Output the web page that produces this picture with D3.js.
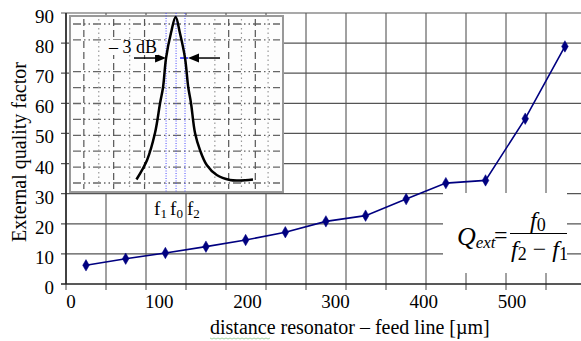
<!DOCTYPE html>
<html>
<head>
<meta charset="utf-8">
<script src="https://cdn.jsdelivr.net/npm/d3@7"></script>
</head>
<body style="margin:0; background:#fff">
<svg id="chart" width="581" height="341"></svg>
<script>
// main series: distance resonator - feed line [um] vs external quality factor
var distance = [17, 62, 107, 153, 198, 243, 289, 334, 380, 425, 470, 515, 560];
var qext = [6.2, 8.4, 10.3, 12.4, 14.6, 17.2, 20.8, 22.7, 28.2, 33.5, 34.4, 54.9, 78.9];
var xTickLabels = [0, 100, 200, 300, 400, 500];
var yTickLabels = [0, 10, 20, 30, 40, 50, 60, 70, 80, 90];

// inset: resonance curve (relative units)
var insetFreq = [3.12, 3.62, 3.99, 4.23, 4.37, 4.51, 4.74, 4.96, 5.16, 5.40, 5.55, 5.68, 5.87, 6.10, 6.42, 6.89, 7.51, 7.98, 8.59];
var insetResp = [0.22, 1.45, 3.14, 5.03, 6.04, 7.86, 9.43, 10.44, 9.43, 7.86, 6.04, 5.03, 3.14, 2.08, 1.13, 0.50, 0.19, 0.16, 0.22];
var insetGridX = [0.65, 1.35, 2.05, 2.8, 3.5, 6.8, 7.45, 8.05, 8.7, 9.3];
var insetGridY = [0, 1, 2, 3, 4, 5, 6, 7, 9, 10];
var fMarks = [4.51, 4.98, 5.40]; // f1, f0, f2
var level3dB = 7.86;

var svg = d3.select("#chart");

// scales
var x = d3.scaleLinear().domain([0, 600]).range([71, 600.2]);   // um -> px (labels, points)
var xGrid = d3.scaleLinear().domain([0, 13]).range([66, 586]);   // grid columns
var y = d3.scaleLinear().domain([0, 90]).range([284, 13]);
var ix = d3.scaleLinear().domain([0, 10]).range([70, 283]);
var iy = d3.scaleLinear().domain([0, 10]).range([183, 24]);

// main grid
svg.append("g").selectAll("line").data(d3.range(0, 14)).join("line")
    .attr("x1", d => xGrid(d)).attr("x2", d => xGrid(d))
    .attr("y1", y(90)).attr("y2", y(0) + 6)
    .attr("style", "stroke:#444; stroke-width:1");
svg.append("g").selectAll("line").data(yTickLabels).join("line")
    .attr("x1", xGrid(0) - 5).attr("x2", 600)
    .attr("y1", d => y(d)).attr("y2", d => y(d))
    .attr("style", d => "stroke:" + (d == 0 ? "#222" : "#555") + "; stroke-width:" + (d == 0 ? 1.5 : 1.2));
svg.append("line")
    .attr("x1", xGrid(0)).attr("x2", xGrid(0)).attr("y1", y(90)).attr("y2", y(0))
    .attr("style", "stroke:#222; stroke-width:1.5");

// tick labels
svg.append("g").selectAll("text").data(yTickLabels).join("text")
    .attr("x", 54).attr("y", d => y(d) + 10)
    .attr("text-anchor", "end").attr("font-size", 19).text(d => d);
svg.append("g").selectAll("text").data(xTickLabels).join("text")
    .attr("x", d => x(d)).attr("y", 308)
    .attr("text-anchor", "middle").attr("font-size", 19).text(d => d);

// axis titles
svg.append("text")
    .attr("transform", "translate(26, 152) rotate(-90)")
    .attr("text-anchor", "middle").attr("font-size", 20)
    .text("External quality factor");
svg.append("text")
    .attr("x", 210).attr("y", 334).attr("font-size", 20)
    .text("distance resonator \u2013 feed line [\u00b5m]");
// spell-check squiggle under "distance"
svg.append("path")
    .attr("d", d3.line()(d3.range(0, 31).map(i => [210 + i * 2, 338 + (i % 2 ? 1 : 0)])))
    .attr("style", "fill:none; stroke:#8cc88c; stroke-width:0.8");

// formula box
svg.append("rect").attr("x", 443).attr("y", 193).attr("width", 124).attr("height", 80)
    .attr("style", "fill:#fff");
var tq = svg.append("text").attr("x", 457).attr("y", 245).attr("font-size", 26).style("font-style", "italic");
tq.append("tspan").text("Q");
tq.append("tspan").attr("font-size", 17).attr("dy", 3).text("ext");
svg.append("text").attr("x", 494).attr("y", 243).attr("font-size", 24).text("=");
svg.append("line").attr("x1", 510).attr("x2", 567).attr("y1", 233.5).attr("y2", 233.5)
    .attr("style", "stroke:#000; stroke-width:1.2");
var tn = svg.append("text").attr("x", 530).attr("y", 228).attr("font-size", 24);
tn.append("tspan").style("font-style", "italic").text("f");
tn.append("tspan").attr("font-size", 18).attr("dy", 3).text("0");
var td = svg.append("text").attr("x", 511).attr("y", 257).attr("font-size", 24);
td.append("tspan").style("font-style", "italic").text("f");
td.append("tspan").attr("font-size", 18).attr("dy", 3).text("2");
td.append("tspan").attr("dy", -3).text(" \u2212 ");
td.append("tspan").style("font-style", "italic").text("f");
td.append("tspan").attr("font-size", 18).attr("dy", 3).text("1");

// data line + markers
var pts = distance.map((d, i) => [x(d), y(qext[i])]);
svg.append("path").attr("d", d3.line()(pts))
    .attr("style", "fill:none; stroke:#000080; stroke-width:1.6");
svg.append("g").selectAll("path").data(pts).join("path")
    .attr("transform", d => "translate(" + d[0] + "," + d[1] + ")")
    .attr("d", d3.symbol(d3.symbolDiamond, 38))
    .attr("style", "fill:#000080; stroke:#000080; stroke-width:0.5");

// inset
var inset = svg.append("g");
inset.append("rect").attr("x", ix(0)).attr("y", 16).attr("width", ix(10) - ix(0)).attr("height", 176)
    .attr("style", "fill:#fdfdfd; stroke:#999; stroke-width:2");
inset.selectAll(".igy").data(insetGridY).join("line").classed("igy", true)
    .attr("x1", ix(0) + 3).attr("x2", ix(10) - 3)
    .attr("y1", d => iy(d)).attr("y2", d => iy(d))
    .attr("stroke-dasharray", "8 3 1.5 3 1.5 3")
    .attr("style", "stroke:#666; stroke-width:1.3");
inset.selectAll(".igx").data(insetGridX).join("line").classed("igx", true)
    .attr("x1", d => ix(d)).attr("x2", d => ix(d))
    .attr("y1", 19).attr("y2", 189)
    .attr("stroke-dasharray", (d, i) => i % 2 ? "1.5 3" : "7 4")
    .attr("style", (d, i) => "stroke:" + (i % 2 ? "#999" : "#555") + "; stroke-width:1.2");
inset.selectAll(".fm").data(fMarks).join("line").classed("fm", true)
    .attr("x1", d => ix(d)).attr("x2", d => ix(d))
    .attr("y1", 13).attr("y2", 192)
    .attr("stroke-dasharray", "1 1.5")
    .attr("style", "stroke:#4a4aff; stroke-width:1");
inset.append("line")
    .attr("x1", ix(fMarks[1]) + 4).attr("x2", ix(fMarks[2]) + 3)
    .attr("y1", iy(level3dB)).attr("y2", iy(level3dB))
    .attr("style", "stroke:#2020ff; stroke-width:1.5");
inset.append("path")
    .attr("d", d3.line().x(d => ix(d[0])).y(d => iy(d[1])).curve(d3.curveCatmullRom)(insetFreq.map((d, i) => [d, insetResp[i]])))
    .attr("style", "fill:none; stroke:#000; stroke-width:2.5");

// -3 dB arrows
var ay = iy(level3dB);
var l1 = ix(fMarks[0]), r1 = ix(fMarks[2]) + 3;
inset.append("line").attr("x1", 134).attr("x2", l1 - 8).attr("y1", ay).attr("y2", ay)
    .attr("style", "stroke:#000; stroke-width:1.5");
inset.append("path").attr("d", d3.line()([[l1, ay], [l1 - 11, ay - 4.5], [l1 - 11, ay + 4.5]]) + "Z")
    .attr("style", "fill:#000");
inset.append("line").attr("x1", 220).attr("x2", r1 + 8).attr("y1", ay).attr("y2", ay)
    .attr("style", "stroke:#000; stroke-width:1.5");
inset.append("path").attr("d", d3.line()([[r1, ay], [r1 + 11, ay - 4.5], [r1 + 11, ay + 4.5]]) + "Z")
    .attr("style", "fill:#000");
inset.append("rect").attr("x", 106).attr("y", 40).attr("width", 52).attr("height", 15).attr("style", "fill:#fdfdfd");
inset.append("text").attr("x", l1 - 9).attr("y", ay - 5).attr("text-anchor", "end")
    .attr("font-size", 18).text("\u2013 3 dB");

// f labels under the inset
var fLab = [["1", -12], ["0", -6], ["2", 2]];
fMarks.forEach(function (d, i) {
    var t = svg.append("text").attr("x", ix(d) + fLab[i][1]).attr("y", 215).attr("font-size", 19);
    t.append("tspan").text("f");
    t.append("tspan").attr("font-size", 13).attr("dy", 3).text(fLab[i][0]);
});

// serif face on every text
svg.selectAll("text").style("font-family", "'Liberation Serif'");
</script>
</body>
</html>
